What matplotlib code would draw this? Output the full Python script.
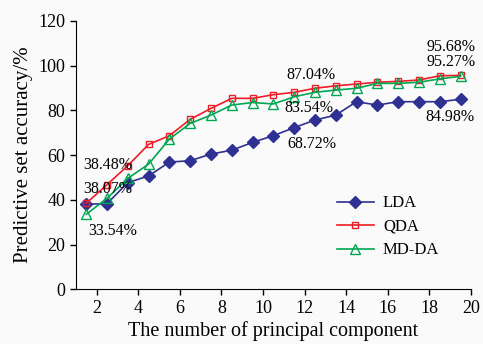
import matplotlib
matplotlib.use("Agg")
import matplotlib.pyplot as plt

# number of principal components (points sit between the integer ticks)
components = [1.5, 2.5, 3.5, 4.5, 5.5, 6.5, 7.5, 8.5, 9.5, 10.5,
              11.5, 12.5, 13.5, 14.5, 15.5, 16.5, 17.5, 18.5, 19.5]
lda = [38.07, 38.3, 47.7, 50.7, 56.9, 57.5, 60.5, 62.2, 65.7, 68.72,
       72.3, 75.7, 77.9, 83.9, 82.4, 83.9, 83.9, 83.9, 84.98]
qda = [38.48, 46.8, 55.3, 64.8, 68.7, 76.0, 80.9, 85.4, 85.4, 87.04,
       88.1, 89.9, 91.0, 91.8, 92.6, 93.0, 93.6, 95.5, 95.68]
mdda = [33.54, 40.7, 49.6, 56.0, 67.2, 74.2, 77.9, 82.4, 83.54, 82.9,
        86.1, 88.1, 89.1, 89.9, 92.1, 92.1, 92.6, 94.1, 95.27]

annotations = [
    ("38.48%", 2.55, 55.5), ("38.07%", 2.55, 44.8), ("33.54%", 2.75, 26.0),
    ("87.04%", 12.3, 95.8), ("83.54%", 12.2, 81.0), ("68.72%", 12.35, 65.0),
    ("95.68%", 19.05, 108.4), ("95.27%", 19.05, 101.6), ("84.98%", 19.0, 77.2),
]

plt.rcParams["font.family"] = ["Liberation Serif", "DejaVu Serif"]
plt.rcParams["font.size"] = 12

fig = plt.figure(figsize=(4.83, 3.44), dpi=100, facecolor="#fafafa")
ax = fig.add_axes([0.157, 0.159, 0.818, 0.78], facecolor="#fafafa")

ax.plot(components, lda, color="#2e3192", marker="D", markersize=6,
        linewidth=1.2, label="LDA")
ax.plot(components, qda, color="#ee1c24", marker="s", markersize=4,
        markerfacecolor="none", markeredgewidth=1.0, linewidth=1.2, label="QDA")
ax.plot(components, mdda, color="#00a651", marker="^", markersize=7,
        markerfacecolor="none", markeredgewidth=1.0, linewidth=1.2, label="MD-DA")

for txt, x, y in annotations:
    ax.text(x, y, txt, ha="center", va="center", fontsize=11.5)

ax.set_xlim(1, 20)
ax.set_ylim(0, 120)
ax.set_xticks(range(2, 21, 2))
ax.set_yticks(range(0, 121, 20))
ax.spines["top"].set_visible(False)
ax.spines["right"].set_visible(False)
ax.tick_params(direction="out", length=4.5, width=1, labelsize=13, pad=3)
ax.set_xlabel("The number of principal component", fontsize=14.5, labelpad=3)
ax.set_ylabel("Predictive set accuracy/%", fontsize=15, labelpad=4)

ax.legend(loc="upper left", bbox_to_anchor=(0.698, 0.432),
          bbox_transform=fig.transFigure, frameon=False, fontsize=12,
          handlelength=2.2, handletextpad=0.55, labelspacing=0.45,
          borderpad=0, borderaxespad=0)

fig.savefig("out.png", dpi=100, facecolor=fig.get_facecolor())
